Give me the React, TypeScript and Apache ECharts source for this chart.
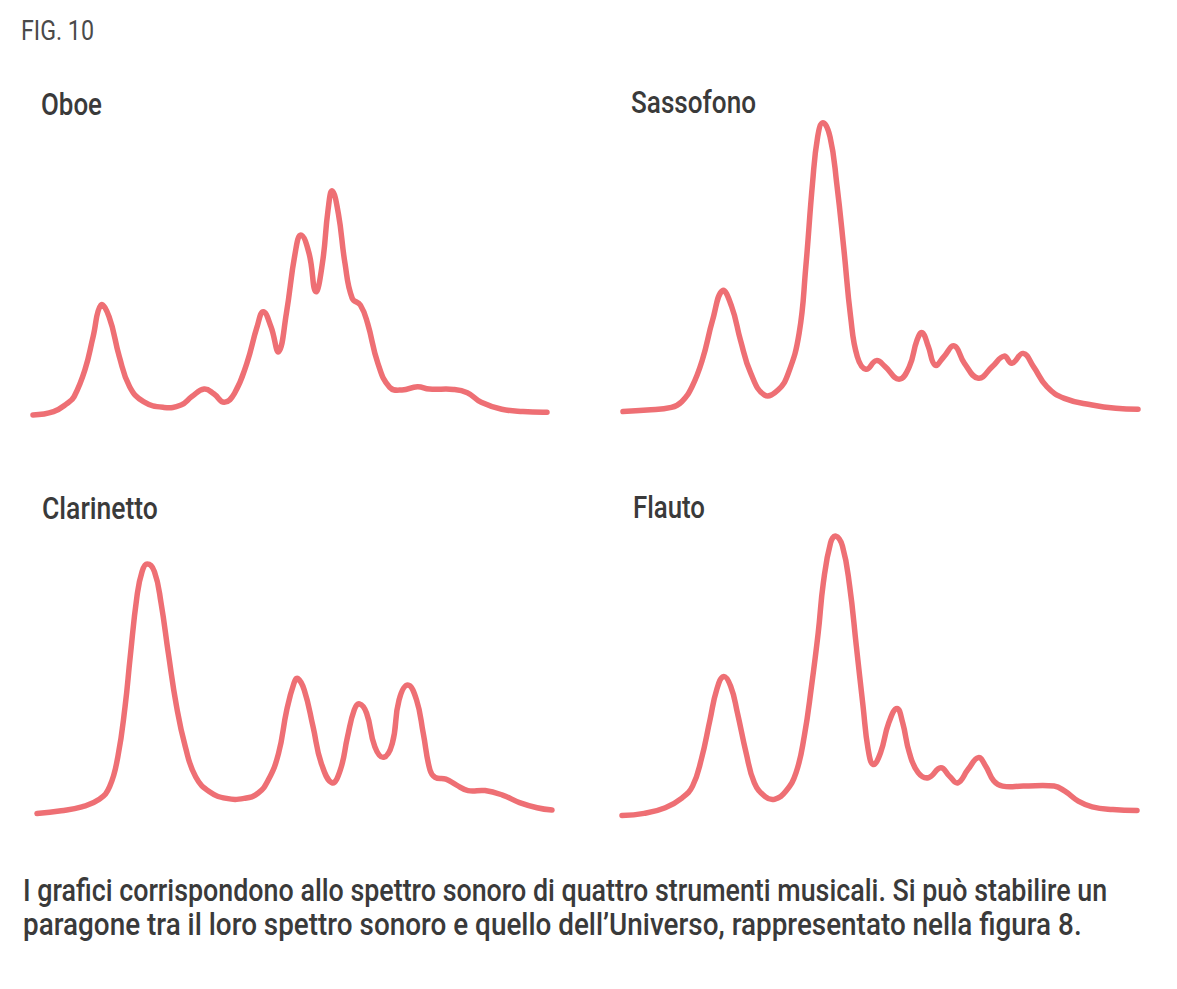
import React, { useEffect, useRef } from "react";
import * as echarts from "echarts";

const W = 1177;
const H = 989;
const LINE_COLOR = "#EE6F74";
const TEXT_COLOR = "#3a3a3a";
const FIG_COLOR = "#4a4a4a";
const FONT_FAMILY = "Roboto, 'Liberation Sans', Arial, sans-serif";

const FIG_TITLE = "FIG. 10";
const INSTRUMENTS = ["Oboe", "Sassofono", "Clarinetto", "Flauto"];
const CAPTION_LINES = [
  "I grafici corrispondono allo spettro sonoro di quattro strumenti musicali. Si può stabilire un",
  "paragone tra il loro spettro sonoro e quello dell\u2019Universo, rappresentato nella figura 8.",
];

// Oboe spectrum (frequency 0..100, amplitude 0..100)
const OBOE_FREQ = [0, 4.0, 6.7, 8.0, 10.1, 11.7, 13.2, 14.8, 16.8, 18.8, 21.5, 25.5, 28.8, 30.9, 33.3, 35.2, 37.2, 39.2, 41.6, 43.6, 44.8, 46.3, 47.8, 49.3, 51.0, 52.1, 53.7, 55.0, 56.3, 57.4, 58.2, 59.4, 60.7, 62.1, 63.7, 65.1, 67.1, 69.4, 71.8, 74.8, 77.1, 81.8, 84.5, 87.2, 91.2, 95.3, 100];
const OBOE_AMP = [1.7, 2.8, 5.6, 7.8, 16.7, 27.8, 38.3, 34.4, 21.1, 11.1, 6.1, 4.2, 5.0, 7.8, 10.3, 8.7, 5.9, 8.9, 18.9, 31.1, 36.1, 31.1, 22.8, 35.6, 55.6, 61.7, 55.6, 42.8, 52.2, 70.0, 76.4, 68.9, 52.2, 40.6, 38.3, 32.2, 18.9, 10.9, 10.0, 11.1, 10.3, 10.2, 9.1, 5.9, 3.6, 2.8, 2.6];

// Sassofono spectrum
const SAX_FREQ = [0, 4.7, 9.4, 11.4, 13.4, 15.4, 17.4, 19.3, 21.1, 22.8, 24.8, 27.5, 30.1, 32.1, 34.2, 35.5, 36.8, 37.8, 38.8, 40.2, 41.5, 42.9, 44.2, 45.5, 47.2, 49.2, 50.9, 53.6, 55.6, 57.1, 58.1, 59.3, 60.6, 62.3, 64.3, 66.3, 69.0, 71.7, 74.0, 75.5, 77.7, 79.7, 82.3, 85.7, 91.1, 95.7, 100];
const SAX_AMP = [2.8, 3.3, 4.2, 6.1, 11.1, 20.0, 33.3, 43.1, 37.8, 26.7, 15.6, 8.3, 10.0, 15.6, 28.9, 51.1, 78.9, 94.4, 99.1, 94.4, 78.9, 56.7, 34.4, 21.1, 16.9, 19.8, 17.8, 13.6, 17.8, 26.7, 29.1, 24.4, 18.3, 21.1, 24.7, 18.9, 13.9, 17.8, 21.3, 18.9, 22.2, 17.8, 11.1, 7.2, 5.0, 3.9, 3.6];

// Clarinetto spectrum
const CLA_FREQ = [0, 4.7, 8.7, 12.1, 14.1, 15.7, 17.1, 18.1, 19.4, 20.4, 21.4, 22.8, 24.1, 25.5, 27.1, 28.8, 30.8, 33.5, 36.8, 40.2, 42.9, 44.9, 46.9, 48.5, 49.9, 50.6, 51.9, 53.6, 55.2, 57.3, 58.9, 60.3, 61.6, 62.6, 64.0, 65.6, 67.3, 69.0, 70.3, 72.0, 73.7, 75.0, 76.3, 77.3, 79.4, 81.4, 83.7, 87.0, 90.4, 93.7, 97.1, 100];
const CLA_AMP = [2.2, 3.1, 4.4, 6.9, 11.1, 21.1, 37.8, 54.4, 74.4, 82.8, 85.3, 82.8, 72.2, 55.6, 37.8, 24.4, 14.4, 9.4, 7.2, 7.2, 8.9, 13.3, 22.2, 36.7, 45.6, 47.2, 43.3, 31.1, 18.9, 12.4, 16.7, 27.8, 36.7, 38.7, 35.6, 24.4, 20.9, 25.6, 40.0, 45.0, 40.0, 28.9, 16.7, 14.2, 13.6, 11.7, 9.8, 9.8, 8.3, 5.8, 4.1, 3.3];

// Flauto spectrum
const FLA_FREQ = [0, 4.3, 8.4, 11.7, 13.7, 15.4, 17.1, 18.4, 19.7, 21.1, 22.4, 24.1, 25.7, 27.8, 29.6, 31.8, 33.8, 35.4, 36.8, 38.1, 39.1, 40.5, 41.5, 42.8, 44.2, 45.5, 46.8, 47.8, 48.8, 50.2, 51.8, 53.4, 54.5, 55.8, 57.5, 59.5, 61.9, 63.6, 65.2, 67.2, 69.2, 70.6, 72.2, 73.9, 77.9, 83.9, 86.0, 88.6, 91.3, 95.3, 100];
const FLA_AMP = [1.5, 2.2, 4.1, 7.4, 11.3, 20.2, 33.5, 43.5, 47.8, 44.6, 35.8, 22.4, 12.4, 7.8, 6.9, 9.6, 15.8, 28.0, 44.6, 62.4, 79.1, 92.4, 94.6, 91.3, 78.0, 58.0, 38.0, 23.5, 18.5, 22.4, 32.4, 37.2, 32.4, 22.4, 15.8, 14.1, 17.4, 14.6, 12.4, 16.9, 20.8, 18.0, 13.0, 11.3, 11.3, 11.3, 9.6, 6.3, 4.4, 3.5, 3.2];

const SERIES_DATA = [
  [OBOE_FREQ, OBOE_AMP],
  [SAX_FREQ, SAX_AMP],
  [CLA_FREQ, CLA_AMP],
  [FLA_FREQ, FLA_AMP],
];

// panel plot areas (pixels)
const GRIDS = [
  { left: 33, top: 120, width: 514, height: 300 },
  { left: 623, top: 120, width: 515, height: 300 },
  { left: 37, top: 520, width: 515, height: 300 },
  { left: 622, top: 520, width: 515, height: 300 },
];

// text placements: left, baseline, font size, target width
const TEXT_LAYOUT = [
  { text: FIG_TITLE, left: 21, base: 40, size: 28, width: 73, weight: 400, color: FIG_COLOR },
  { text: INSTRUMENTS[0], left: 41, base: 115, size: 31, width: 61, weight: 500, color: TEXT_COLOR },
  { text: INSTRUMENTS[1], left: 631, base: 113, size: 31, width: 125, weight: 500, color: TEXT_COLOR },
  { text: INSTRUMENTS[2], left: 42, base: 519, size: 31, width: 116, weight: 500, color: TEXT_COLOR },
  { text: INSTRUMENTS[3], left: 633, base: 519, size: 31, width: 72, weight: 500, color: TEXT_COLOR },
  { text: CAPTION_LINES[0], left: 23, base: 901, size: 31, width: 1084, weight: 500, color: TEXT_COLOR },
  { text: CAPTION_LINES[1], left: 23, base: 936, size: 31, width: 1059, weight: 500, color: TEXT_COLOR },
];

function measure(text: string, size: number, weight: number): number {
  const c = document.createElement("canvas");
  const ctx = c.getContext("2d");
  if (!ctx) return text.length * size * 0.5;
  ctx.font = `${weight} ${size}px ${FONT_FAMILY}`;
  return ctx.measureText(text).width;
}

export default function App() {
  const ref = useRef<HTMLDivElement>(null);

  useEffect(() => {
    document.body.style.margin = "0";
    if (!ref.current) return;
    const chart = echarts.init(ref.current, undefined, { renderer: "svg" });

    const graphic = TEXT_LAYOUT.map((t) => {
      const w = measure(t.text, t.size, t.weight);
      return {
        type: "text",
        x: t.left,
        y: t.base - 0.36 * t.size,
        scaleX: t.width / w,
        style: {
          text: t.text,
          x: 0,
          y: 0,
          fontSize: t.size,
          fontFamily: FONT_FAMILY,
          fontWeight: t.weight,
          fill: t.color,
          align: "left",
          verticalAlign: "middle",
          textAlign: "left",
          textVerticalAlign: "middle",
        },
      };
    });

    chart.setOption({
      animation: false,
      backgroundColor: "#ffffff",
      grid: GRIDS.map((g) => ({ ...g, containLabel: false })),
      xAxis: GRIDS.map((_, i) => ({
        type: "value",
        gridIndex: i,
        min: 0,
        max: 100,
        show: false,
      })),
      yAxis: GRIDS.map((_, i) => ({
        type: "value",
        gridIndex: i,
        min: 0,
        max: 100,
        show: false,
      })),
      series: SERIES_DATA.map(([fx, amp], i) => {
        const pts = fx.map((x, k) => [x, amp[k]]);
        return {
          type: "custom",
          name: INSTRUMENTS[i],
          coordinateSystem: "cartesian2d",
          xAxisIndex: i,
          yAxisIndex: i,
          data: pts,
          encode: { x: 0, y: 1 },
          clip: false,
          silent: true,
          renderItem: (params: any, api: any) => {
            if (params.dataIndex !== 0) return null;
            const points = pts.map((p) => api.coord(p));
            return {
              type: "polyline",
              shape: { points, smooth: 0.45 },
              style: {
                stroke: LINE_COLOR,
                lineWidth: 5.5,
                fill: "none",
                lineCap: "round",
                lineJoin: "round",
              },
            };
          },
        };
      }),
      graphic,
    });

    return () => chart.dispose();
  }, []);

  return (
    <div
      ref={ref}
      style={{ position: "fixed", left: 0, top: 0, width: W, height: H, background: "#fff" }}
    />
  );
}
